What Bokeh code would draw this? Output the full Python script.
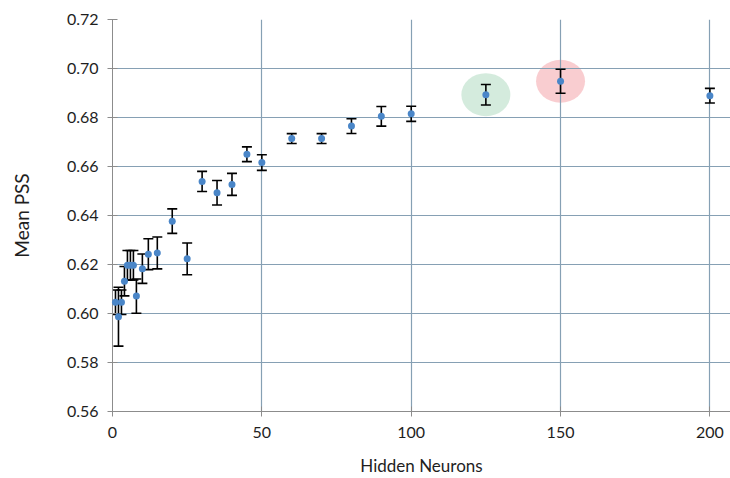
import numpy as np
from bokeh.plotting import figure
from bokeh.models import ColumnDataSource, Whisker, TeeHead, FixedTicker, NumeralTickFormatter, Range1d
from bokeh.embed import file_html
from bokeh.resources import INLINE

hidden_neurons = [1, 2, 3, 4, 5, 6, 7, 8, 10, 12, 15, 20, 25, 30, 35, 40, 45, 50, 60, 70, 80, 90, 100, 125, 150, 200]
mean_pss = [0.6046, 0.5987, 0.6046, 0.6132, 0.6197, 0.6197, 0.6197, 0.6071, 0.6183, 0.6242, 0.6247, 0.6377, 0.6223,
            0.6539, 0.6493, 0.6527, 0.6650, 0.6616, 0.6714, 0.6714, 0.6765, 0.6805, 0.6815, 0.6893, 0.6948, 0.6889]
err = [0.005, 0.012, 0.005, 0.006, 0.006, 0.006, 0.006, 0.007, 0.006, 0.0063, 0.0065, 0.005, 0.0065,
       0.0041, 0.005, 0.0045, 0.003, 0.0032, 0.002, 0.002, 0.003, 0.004, 0.0031, 0.0042, 0.0049, 0.003]
highlight_x = [125, 150]
highlight_y = [0.6893, 0.6948]
highlight_colors = ["#cfe9d9", "#f8c8cb"]
x_ticks = [0, 50, 100, 150, 200]
y_ticks = [0.56, 0.58, 0.60, 0.62, 0.64, 0.66, 0.68, 0.70, 0.72]

FONT = "Lato"
grid_color = "#86a0b4"
axis_color = "#8c8c8c"
text_color = "#1e1e1e"

p = figure(width=730, height=478, output_backend="svg", toolbar_location=None,
           x_range=Range1d(0, 206.9), y_range=Range1d(0.56, 0.72),
           min_border_left=112, min_border_right=0, min_border_top=19, min_border_bottom=66,
           x_axis_label="Hidden Neurons", y_axis_label="Mean PSS")
p.outline_line_color = None
p.background_fill_color = "white"

hs = ColumnDataSource(dict(x=highlight_x, y=highlight_y, c=highlight_colors))
p.ellipse(x="x", y="y", width=49, height=43, width_units="screen", height_units="screen",
          fill_color="c", line_color=None, fill_alpha=0.9, source=hs, level="underlay")

upper = [m + e for m, e in zip(mean_pss, err)]
lower = [m - e for m, e in zip(mean_pss, err)]
src = ColumnDataSource(dict(x=hidden_neurons, y=mean_pss, upper=upper, lower=lower))
w = Whisker(source=src, base="x", upper="upper", lower="lower", line_color="black", line_width=1.6,
            upper_head=TeeHead(size=10, line_color="black", line_width=1.6),
            lower_head=TeeHead(size=10, line_color="black", line_width=1.6))
p.add_layout(w)
p.scatter(x="x", y="y", size=7, fill_color="#4a86c8", line_color=None, source=src, level="overlay")

p.xaxis.ticker = FixedTicker(ticks=x_ticks)
p.yaxis.ticker = FixedTicker(ticks=y_ticks)
p.yaxis.formatter = NumeralTickFormatter(format="0.00")
for ax in (p.xaxis, p.yaxis):
    ax.axis_line_color = axis_color
    ax.major_tick_line_color = axis_color
    ax.major_tick_in = 5
    ax.major_tick_out = 5
    ax.minor_tick_line_color = None
    ax.major_label_text_font = FONT
    ax.major_label_text_font_size = "16px"
    ax.major_label_text_color = text_color
    ax.axis_label_text_font = FONT
    ax.axis_label_text_font_style = "normal"
    ax.axis_label_text_color = text_color
p.xaxis.axis_label_text_font_size = "17px"
p.yaxis.axis_label_text_font_size = "19px"
p.xaxis.major_label_standoff = 10
p.yaxis.major_label_standoff = 9
p.xaxis.axis_label_standoff = 14
p.yaxis.axis_label_standoff = 31

p.xgrid.grid_line_color = grid_color
p.ygrid.grid_line_color = grid_color
p.xgrid.ticker = FixedTicker(ticks=x_ticks)
p.ygrid.ticker = FixedTicker(ticks=y_ticks)
p.grid.grid_line_width = 1.2

open("out.html", "w").write(file_html(p, INLINE))
